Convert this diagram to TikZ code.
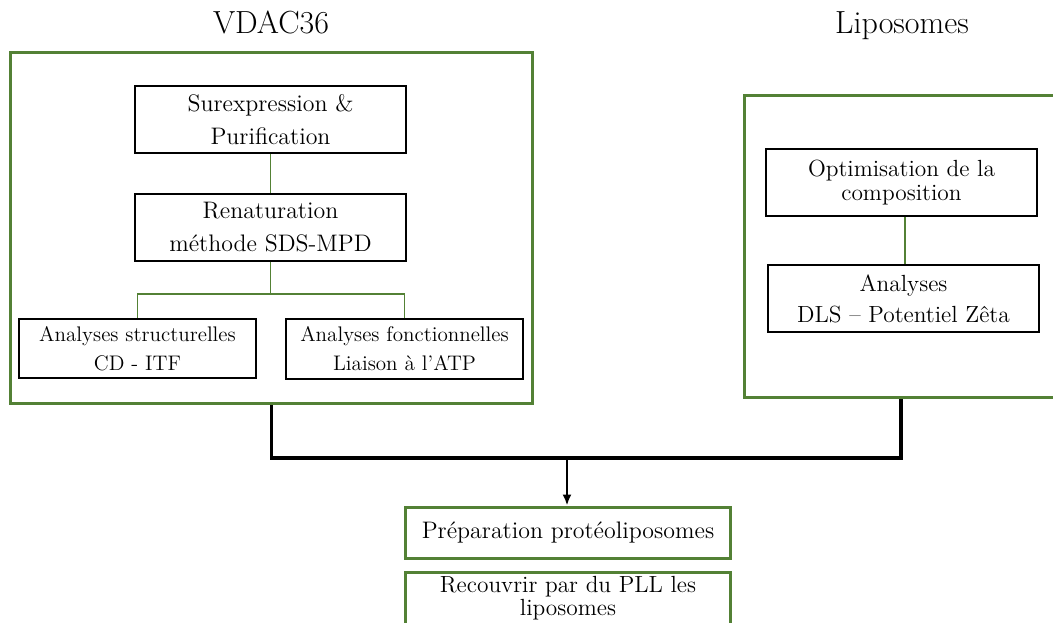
\documentclass[tikz,border=0pt]{standalone}
\usepackage{xcolor}
\usepackage{tikz}
\usetikzlibrary{shapes,arrows,arrows.meta}
\definecolor{leafgreen}{HTML}{538135}
\tikzstyle{stepbox} = [rectangle, draw, line width=1.1pt, align=center, inner sep=0pt, minimum width=5.42cm, minimum height=1.34cm]
\tikzstyle{smallbox} = [stepbox, minimum width=4.74cm, minimum height=1.19cm, font=\fontsize{12}{16.5}\selectfont]
\tikzstyle{greenbox} = [stepbox, draw=leafgreen, line width=1.7pt, minimum width=6.52cm]
\tikzstyle{frame} = [rectangle, draw=leafgreen, line width=1.7pt, inner sep=0pt]
\tikzstyle{title} = [anchor=base, font=\fontsize{18.2}{22}\selectfont]
\tikzstyle{gline} = [draw=leafgreen, line width=0.8pt]
\tikzstyle{line} = [draw, line width=1.8pt]

\begin{document}
\begin{tikzpicture}[x=0.02cm, y=-0.02cm, font=\fontsize{13.6}{18.8}\selectfont]
\useasboundingbox (0,0) rectangle (1053,622);

% two columns
\node [title] (ttlv) at (271,33) {VDAC36};
\node [title] (ttll) at (902,33) {Liposomes};

\node [frame, minimum width=10.46cm, minimum height=7.04cm] (vdac) at (271.5,228) {};
\node [frame, minimum width=6.28cm, minimum height=6.06cm] (lip) at (901,246.5) {};

% VDAC36
\node [stepbox] (sur) at (270.5,119.5) {Surexpression \&\\Purification};
\node [stepbox] (ren) at (270.5,227.5) {Renaturation\\m\'ethode SDS-MPD};
\node [smallbox] (struc) at (137.5,348.5) {Analyses structurelles\\CD - ITF};
\node [smallbox] (fonc) at (404.5,349) {Analyses fonctionnelles\\Liaison \`a l’ATP};

\path [gline] (sur) -- (ren);
\coordinate (split) at (270.5,294);
\path [gline] (ren) -- (split) -| (struc);
\path [gline] (split) -| (fonc);

% Liposomes
\node [stepbox, font=\fontsize{13.3}{13.7}\selectfont] (opt) at (901.5,182.5) {Optimisation de la\\composition};
\node [stepbox, font=\fontsize{13.3}{17.6}\selectfont] (dls) at (903.5,298.5) {Analyses\\DLS -- Potentiel Z\^eta};

\path [gline] (opt.south -| 905,0) -- (dls.north -| 905,0);

% joining
\node [greenbox, minimum height=1.02cm] (prep) at (568,532.5) {Pr\'eparation prot\'eoliposomes};
\node [greenbox, minimum height=1.04cm, font=\fontsize{13.3}{12.8}\selectfont] (pll) at (568,598) {Recouvrir par du PLL les\\liposomes};

\coordinate (mid) at (567,458);
\path [line] (vdac.south) |- (mid) -| (lip.south);
\path [draw, line width=1.2pt, -{Latex[length=2.2mm,width=1.8mm]}] (mid) -- (prep.north -| mid);

\end{tikzpicture}
\end{document}
